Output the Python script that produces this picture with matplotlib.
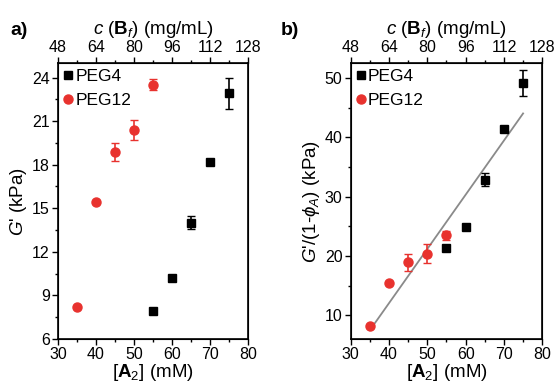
import matplotlib
matplotlib.use("Agg")
import matplotlib.pyplot as plt
from matplotlib.lines import Line2D
import numpy as np

plt.rcParams['font.family'] = ['Liberation Sans', 'DejaVu Sans']
plt.rcParams['mathtext.fontset'] = 'custom'
plt.rcParams['mathtext.rm'] = 'Liberation Sans'
plt.rcParams['mathtext.it'] = 'Liberation Sans:italic'
plt.rcParams['mathtext.bf'] = 'Liberation Sans:bold'

# data
conc_peg4 = [55, 60, 65, 70, 75]
conc_peg12 = [35, 40, 45, 50, 55]

g_peg4 = [7.95, 10.2, 14.0, 18.2, 22.9]
g_peg4_err = [0, 0, 0.45, 0, 1.05]
g_peg12 = [8.2, 15.45, 18.9, 20.4, 23.5]
g_peg12_err = [0, 0, 0.62, 0.7, 0.38]

gn_peg4 = [21.3, 24.9, 32.8, 41.3, 49.1]
gn_peg4_err = [0, 0, 1.1, 0, 2.2]
gn_peg12 = [8.2, 15.5, 18.9, 20.4, 23.5]
gn_peg12_err = [0, 0, 1.4, 1.6, 0.75]

fit_x = [35, 75]
fit_y = [7.5, 44.0]

red = '#e8322e'

fig = plt.figure(figsize=(5.55, 3.84), dpi=100)
ax1 = fig.add_axes([0.1045, 0.117, 0.3425, 0.719])
ax2 = fig.add_axes([0.632, 0.117, 0.345, 0.719])


def style(ax):
    ax.set_xlim(30, 80)
    ax.set_xticks(np.arange(30, 81, 10))
    ax.set_xticks(np.arange(35, 80, 10), minor=True)
    ax.tick_params(which='both', direction='out', labelsize=11.5, width=1, pad=2)
    ax.tick_params(which='major', length=4)
    ax.tick_params(which='minor', length=2.5)
    for s in ax.spines.values():
        s.set_linewidth(1.2)
    ax.set_xlabel(r'[$\mathbf{A}_2$] (mM)', fontsize=13.5, labelpad=0)
    top = ax.twiny()
    top.set_xlim(48, 128)
    top.set_xticks(np.arange(48, 129, 16))
    top.set_xticks(np.arange(56, 128, 16), minor=True)
    top.tick_params(which='both', direction='out', labelsize=11.5, width=1, pad=2)
    top.tick_params(which='major', length=4)
    top.tick_params(which='minor', length=2.5)
    top.set_xlabel(r'$c$ ($\mathbf{B}_f$) (mg/mL)', fontsize=13.5, labelpad=4)
    return top


style(ax1)
ax1.set_ylim(6, 25)
ax1.set_yticks(np.arange(6, 25, 3))
ax1.set_yticks(np.arange(7.5, 25, 3), minor=True)
ax1.errorbar(conc_peg4, g_peg4, yerr=g_peg4_err, fmt='s', color='black',
             ms=6, capsize=3, elinewidth=1.2)
ax1.errorbar(conc_peg12, g_peg12, yerr=g_peg12_err, fmt='o', color=red,
             ms=6.5, capsize=3, elinewidth=1.2)
ax1.set_ylabel(r"$G$' (kPa)", fontsize=13.5, labelpad=2)

style(ax2)
ax2.set_ylim(6, 52.5)
ax2.set_yticks([10, 20, 30, 40, 50])
ax2.set_yticks([15, 25, 35, 45], minor=True)
ax2.plot(fit_x, fit_y, color='#8a8a8a', lw=1.3, zorder=1)
ax2.errorbar(conc_peg4, gn_peg4, yerr=gn_peg4_err, fmt='s', color='black',
             ms=6, capsize=3, elinewidth=1.2)
ax2.errorbar(conc_peg12, gn_peg12, yerr=gn_peg12_err, fmt='o', color=red,
             ms=6.5, capsize=3, elinewidth=1.2)
ax2.set_ylabel(r"$G$'/(1-$\phi_A$) (kPa)", fontsize=13.5, labelpad=2)

handles = [Line2D([], [], marker='s', ls='none', color='black', ms=6),
           Line2D([], [], marker='o', ls='none', color=red, ms=6.5)]
for ax in (ax1, ax2):
    ax.legend(handles, ['PEG4', 'PEG12'], loc='upper left', frameon=False,
              fontsize=12.5, handlelength=0.5, handletextpad=0.15,
              borderaxespad=0.15, borderpad=0.2, labelspacing=0.5)

fig.text(0.018, 0.91, 'a)', fontsize=14, fontweight='bold')
fig.text(0.505, 0.91, 'b)', fontsize=14, fontweight='bold')

fig.savefig('out.png', dpi=100)
